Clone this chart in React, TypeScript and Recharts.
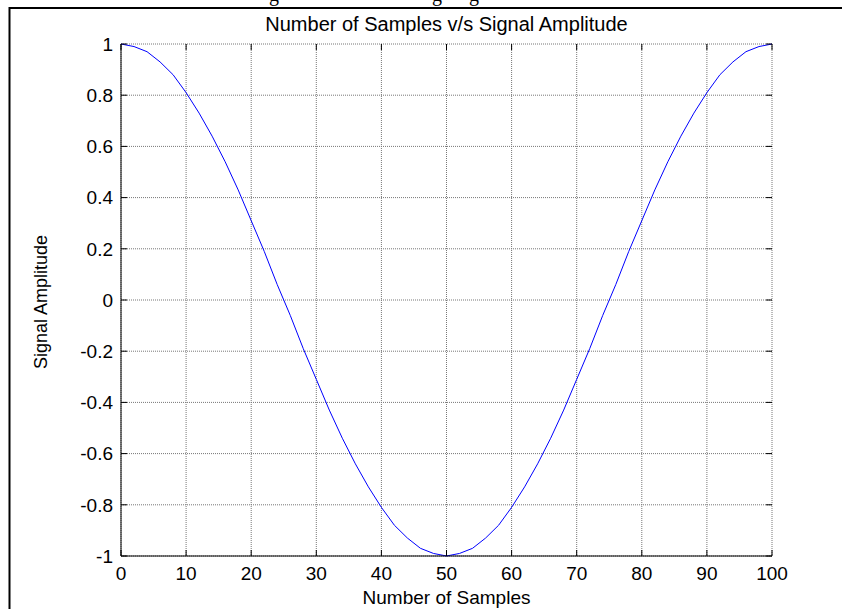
import { LineChart, Line, XAxis, YAxis, CartesianGrid } from "recharts";

// sample index and the plotted amplitude
const samples = [
  0, 2, 4, 6, 8, 10, 12, 14, 16, 18, 20, 22, 24, 26, 28, 30, 32, 34, 36, 38, 40,
  42, 44, 46, 48, 50, 52, 54, 56, 58, 60, 62, 64, 66, 68, 70, 72, 74, 76, 78, 80,
  82, 84, 86, 88, 90, 92, 94, 96, 98, 100,
];
const amplitude = [
  1.0, 0.99, 0.97, 0.93, 0.88, 0.81, 0.73, 0.64, 0.54, 0.43, 0.31, 0.19, 0.06,
  -0.06, -0.19, -0.31, -0.43, -0.54, -0.64, -0.73, -0.81, -0.88, -0.93, -0.97,
  -0.99, -1.0, -0.99, -0.97, -0.93, -0.88, -0.81, -0.73, -0.64, -0.54, -0.43,
  -0.31, -0.19, -0.06, 0.06, 0.19, 0.31, 0.43, 0.54, 0.64, 0.73, 0.81, 0.88,
  0.93, 0.97, 0.99, 1.0,
];

const xTicks = [0, 10, 20, 30, 40, 50, 60, 70, 80, 90, 100];
const yTicks = [-1, -0.8, -0.6, -0.4, -0.2, 0, 0.2, 0.4, 0.6, 0.8, 1];

const title = "Number of Samples v/s Signal Amplitude";
const xLabel = "Number of Samples";
const yLabel = "Signal Amplitude";

const data = samples.map((n, i) => ({ n, amp: amplitude[i] }));

const W = 842;
const H = 609;
const margin = { top: 44, right: 70, bottom: 0, left: 0 };
const PLOT_TOP = margin.top;
const PLOT_RIGHT = W - margin.right;

const font = "'Liberation Sans', Arial, sans-serif";
const FS = 19;
const MARK = 6; // inward tick length
const X_GAP = 11; // axis line -> x label
const Y_GAP = 8; // axis line -> y label

// x tick: label below the axis plus inward marks on bottom and top edges
const XTick = (p: any) => {
  const axisY = p.y - X_GAP;
  return (
    <g>
      <line x1={p.x} x2={p.x} y1={axisY} y2={axisY - MARK} stroke="#000" />
      <line x1={p.x} x2={p.x} y1={PLOT_TOP} y2={PLOT_TOP + MARK} stroke="#000" />
      <text x={p.x} y={p.y} dy="0.71em" textAnchor="middle" fontSize={FS} fontFamily={font} fill="#000">
        {p.payload.value}
      </text>
    </g>
  );
};

// y tick: label left of the axis plus inward marks on left and right edges
const YTick = (p: any) => {
  const axisX = p.x + Y_GAP;
  return (
    <g>
      <line x1={axisX} x2={axisX + MARK} y1={p.y} y2={p.y} stroke="#000" />
      <line x1={PLOT_RIGHT} x2={PLOT_RIGHT - MARK} y1={p.y} y2={p.y} stroke="#000" />
      <text x={p.x} y={p.y} dy="0.355em" textAnchor="end" fontSize={FS} fontFamily={font} fill="#000">
        {p.payload.value}
      </text>
    </g>
  );
};

export default function App() {
  return (
    <div style={{ position: "absolute", left: 0, top: 0, width: W, height: H }}>
      <LineChart width={W} height={H} data={data} margin={margin}>
        <CartesianGrid stroke="#777" strokeDasharray="1 1" />
        <XAxis
          dataKey="n"
          type="number"
          domain={[0, 100]}
          ticks={xTicks}
          height={53}
          stroke="#000"
          tickLine={false}
          tickSize={0}
          tickMargin={X_GAP}
          tick={XTick}
          interval={0}
        />
        <XAxis
          xAxisId="top"
          orientation="top"
          dataKey="n"
          type="number"
          domain={[0, 100]}
          height={0}
          stroke="#000"
          tickLine={false}
          tick={false}
        />
        <YAxis
          type="number"
          domain={[-1, 1]}
          ticks={yTicks}
          width={121}
          stroke="#000"
          tickLine={false}
          tickSize={0}
          tickMargin={Y_GAP}
          tick={YTick}
          interval={0}
        />
        <YAxis
          yAxisId="right"
          orientation="right"
          type="number"
          domain={[-1, 1]}
          width={0}
          stroke="#000"
          tickLine={false}
          tick={false}
        />
        <Line
          dataKey="amp"
          type="linear"
          stroke="#0000ff"
          strokeWidth={1}
          dot={false}
          isAnimationActive={false}
        />
      </LineChart>
      <svg
        width={W}
        height={H}
        style={{ position: "absolute", left: 0, top: 0, pointerEvents: "none" }}
      >
        {/* cut-off caption from the page above */}
        <g fontFamily="'Liberation Serif', serif" fontSize={20} fill="#000">
          <text x={274} y={0.5} textAnchor="middle">g</text>
          <text x={437} y={0.5} textAnchor="middle">g</text>
          <text x={474} y={0.5} textAnchor="middle">g</text>
        </g>
        <path d="M 9.5 609 V 8 H 842" fill="none" stroke="#000" strokeWidth={2} />
        <text x={446.5} y={31} textAnchor="middle" fontFamily={font} fontSize={20}>
          {title}
        </text>
        <text x={446.5} y={604} textAnchor="middle" fontFamily={font} fontSize={19}>
          {xLabel}
        </text>
        <text
          transform="translate(47 302) rotate(-90)"
          textAnchor="middle"
          fontFamily={font}
          fontSize={18}
        >
          {yLabel}
        </text>
      </svg>
    </div>
  );
}
